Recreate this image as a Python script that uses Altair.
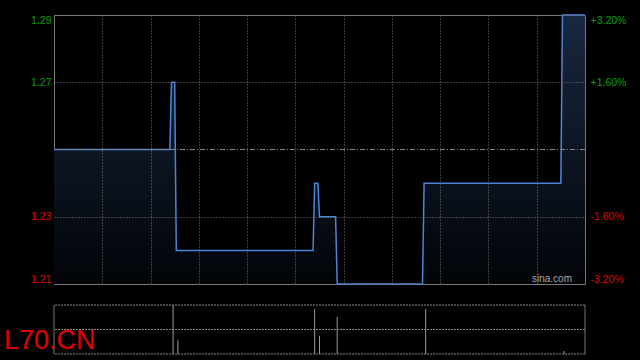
import altair as alt
import pandas as pd

# ---- data ----
symbol = "L70.CN"
prev_close = 1.25
price_floor = 1.21
minutes = [0, 72, 73, 75, 76, 161, 162, 164, 165, 175, 176, 229, 230, 315, 316, 330]
prices = [1.25, 1.25, 1.27, 1.27, 1.22, 1.22, 1.24, 1.24, 1.23, 1.23, 1.21, 1.21, 1.24, 1.24, 1.29, 1.29]
vol_minutes = [74, 77, 162, 165, 176, 231, 317]
volumes = [100000, 29000, 92000, 37000, 76000, 92000, 6000]
price_ticks = [1.21, 1.23, 1.27, 1.29]
time_grid = [30, 60, 90, 120, 150, 180, 210, 240, 270, 300]
vol_max = 100000
vol_levels = [0, 50000, 100000]
session_edges = [0, 330]

price_df = pd.DataFrame({"m": minutes, "p": prices})
vol_df = pd.DataFrame({"m": vol_minutes, "v": volumes})
ref_df = pd.DataFrame({"v": [prev_close]})
vlev_df = pd.DataFrame({"v": vol_levels})
edge_df = pd.DataFrame({"m": session_edges, "lo": [0, 0], "hi": [vol_max, vol_max]})

FONT = "Liberation Sans, Arial, sans-serif"
GREEN = "#00a000"
RED = "#e00000"

xscale = alt.Scale(domain=[0, 330], nice=False, zero=False)
xaxis = alt.Axis(values=time_grid, grid=True, gridDash=[1, 2], gridColor="#777",
                 labels=False, ticks=False, domain=False, title=None, zindex=1)
x_enc = alt.X("m:Q", scale=xscale, axis=xaxis)

pscale = alt.Scale(domain=[1.21, 1.29], nice=False, zero=False)
vscale = alt.Scale(domain=[0, vol_max], range=[339, 290], nice=False, zero=False)

color_expr = {"expr": f"datum.value > {prev_close} ? '{GREEN}' : '{RED}'"}

left_axis = alt.Axis(values=price_ticks, format=".2f", orient="left", grid=True,
                     gridDash=[1, 2], gridColor="#777", ticks=False, domain=False,
                     labelPadding=3, labelFlush=True, labelFlushOffset=0,
                     labelFont=FONT, labelFontSize=10.5, labelColor=color_expr,
                     title=None, zindex=1)
right_axis = alt.Axis(values=price_ticks, orient="right", grid=False, ticks=False,
                      domain=False, labelPadding=5, labelFlush=True, labelFlushOffset=0,
                      labelExpr=(f"(datum.value/{prev_close}-1 < 0 ? '-' : '+') + "
                                 f"format(abs((datum.value/{prev_close}-1)*100), '.2f') + '%'"),
                      labelFont=FONT, labelFontSize=10.5, labelColor=color_expr,
                      title=None)

gradient = alt.Gradient(
    gradient="linear",
    stops=[alt.GradientStop(color="#18283f", offset=0),
           alt.GradientStop(color="#020408", offset=1)],
    x1=1, x2=1, y1=0, y2=1,
)

area = alt.Chart(price_df).mark_area(color=gradient).encode(
    x=x_enc, y=alt.Y("p:Q", scale=pscale, axis=left_axis), y2=alt.datum(price_floor)
)
line = alt.Chart(price_df).mark_line(color="#4d84d8", strokeWidth=1.5).encode(
    x=x_enc, y=alt.Y("p:Q", scale=pscale, axis=None)
)
ref = alt.Chart(ref_df).mark_rule(color="#888", strokeWidth=1, strokeDash=[5, 2, 1, 2]).encode(
    y=alt.Y("v:Q", scale=pscale, axis=right_axis)
)

vgrid = alt.Chart(vlev_df).mark_rule(color="#888", strokeWidth=1, strokeDash=[2, 1]).encode(
    y=alt.Y("v:Q", scale=vscale, axis=None)
)
vedges = alt.Chart(edge_df).mark_rule(color="#777", strokeWidth=1).encode(
    x=x_enc, y=alt.Y("lo:Q", scale=vscale, axis=None), y2="hi:Q"
)
vbars = alt.Chart(vol_df).mark_rule(color="#999", strokeWidth=1).encode(
    x=x_enc, y=alt.Y("v:Q", scale=vscale, axis=None), y2=alt.datum(0)
)

sina = alt.Chart(pd.DataFrame({"t": ["sina.com"]})).mark_text(
    font=FONT, fontSize=10, color="#aaa", align="left", baseline="alphabetic"
).encode(text="t:N", x=alt.value(478), y=alt.value(267))

label = alt.Chart(pd.DataFrame({"t": [symbol]})).mark_text(
    font=FONT, fontSize=27, color=RED, align="left", baseline="alphabetic"
).encode(text="t:N", x=alt.value(-50), y=alt.value(334))

chart = alt.layer(area, line, ref, vgrid, vedges, vbars, sina, label).resolve_scale(
    y="independent"
).properties(
    width=531, height=269,
    autosize=alt.AutoSizeParams(type="none"),
    padding={"left": 54, "top": 15, "right": 55, "bottom": 76},
    background="#000000",
).configure_view(stroke="#777", strokeWidth=1)

chart.save("out.html", embed_options={"renderer": "svg", "actions": False})
